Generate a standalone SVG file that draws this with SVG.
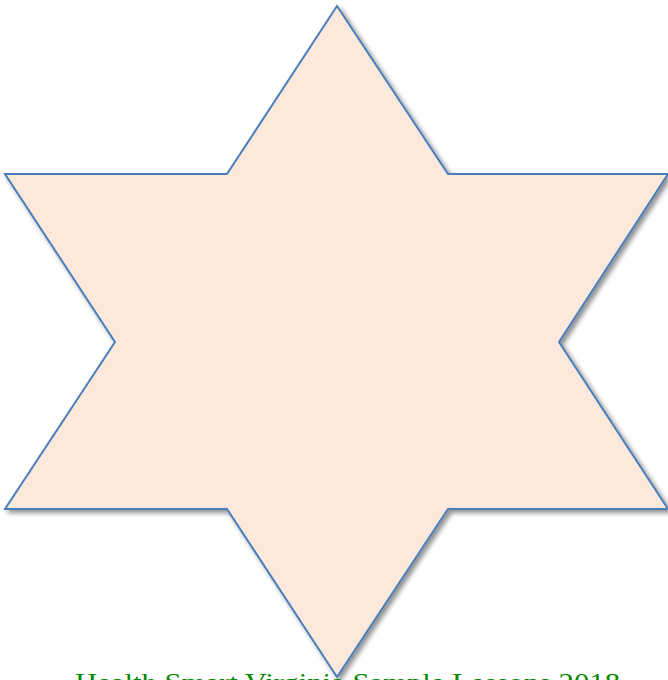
<svg xmlns="http://www.w3.org/2000/svg" width="668" height="680" viewBox="0 0 668 680">
<defs>
<filter id="sh" x="-10%" y="-10%" width="120%" height="120%">
<feGaussianBlur in="SourceAlpha" stdDeviation="2.5"/>
<feOffset dx="3" dy="3" result="b"/>
<feComponentTransfer><feFuncA type="linear" slope="0.45"/></feComponentTransfer>
<feMerge><feMergeNode/><feMergeNode in="SourceGraphic"/></feMerge>
</filter>
<style>
.star{fill:#FCE9DB;stroke:#4A7EBB;stroke-width:2;stroke-linejoin:miter}
.cap{font-family:"Liberation Serif","DejaVu Serif",serif;font-size:26px;fill:#008A00}
</style>
</defs>
<rect width="668" height="680" fill="#ffffff"/>
<g id="star" filter="url(#sh)">
<polygon class="star" points="337,6 448,174 668,174 559,342 668,509 448,509 337,677 227,509 5,509 115,342 5,174 227,174"/>
</g>
<g id="caption">
<text class="cap" x="75" y="691" textLength="545" lengthAdjust="spacingAndGlyphs">Health Smart Virginia Sample Lessons 2018</text>
</g>
</svg>
